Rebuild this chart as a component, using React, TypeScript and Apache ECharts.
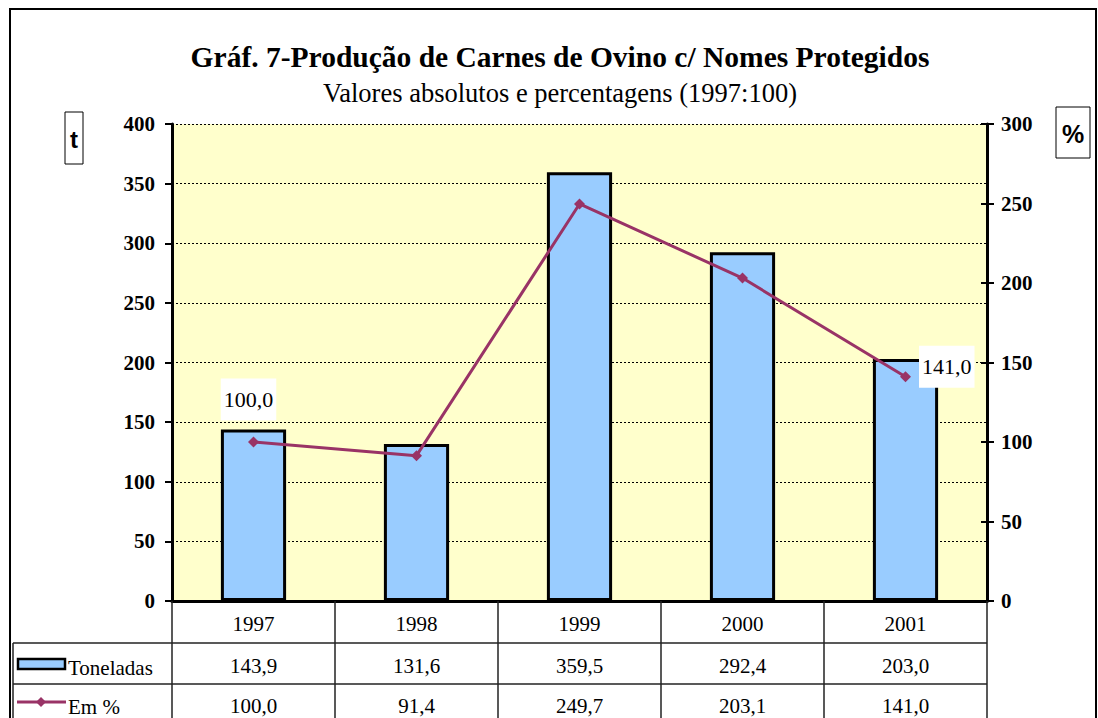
import React, { useEffect, useRef } from "react";
import * as echarts from "echarts";

const categories = ["1997", "1998", "1999", "2000", "2001"];
const toneladas = [143.9, 131.6, 359.5, 292.4, 203.0];
const emPct = [100.0, 91.4, 249.7, 203.1, 141.0];
const leftTicks = { min: 0, max: 400, interval: 50 };
const rightTicks = { min: 0, max: 300, interval: 50 };
const titleText = "Gráf. 7-Produção de Carnes de Ovino c/ Nomes Protegidos";
const subtitleText = "Valores absolutos e percentagens (1997:100)";
const seriesNames = ["Toneladas", "Em %"];

const fmt = (v: number) => v.toFixed(1).replace(".", ",");
const SERIF = "Liberation Serif, Times New Roman, serif";
const SANS = "Liberation Sans, Arial, sans-serif";

export default function App() {
  const ref = useRef<HTMLDivElement>(null);
  useEffect(() => {
    if (!ref.current) return;
    const chart = echarts.init(ref.current, undefined, { renderer: "svg" });
    const hidden = { show: false };
    const tableAxis = (data: string[], offset: number) => ({
      type: "category",
      data,
      position: "bottom",
      offset,
      gridIndex: 0,
      axisLine: hidden,
      axisTick: hidden,
      splitLine: hidden,
      axisLabel: { interval: 0, margin: 12, fontFamily: SERIF, fontSize: 21, color: "#000" },
    });
    const lastIdx = emPct.length - 1;
    chart.setOption({
      animation: false,
      backgroundColor: "#fff",
      textStyle: { fontFamily: SERIF },
      grid: {
        left: 172,
        right: 111,
        top: 124,
        bottom: 117,
        show: true,
        backgroundColor: "#FFFFCC",
        borderWidth: 0,
      },
      xAxis: [
        {
          type: "category",
          data: categories,
          position: "bottom",
          axisLine: { show: true, lineStyle: { color: "#000", width: 3 } },
          axisTick: { show: true, interval: 0, length: 117, lineStyle: { color: "#222", width: 1.5 } },
          axisLabel: { interval: 0, margin: 12, fontFamily: SERIF, fontSize: 21, color: "#000" },
          splitLine: hidden,
        },
        tableAxis(toneladas.map(fmt), 42),
        tableAxis(emPct.map(fmt), 82),
      ],
      yAxis: [
        {
          type: "value",
          position: "left",
          ...leftTicks,
          axisLine: { show: true, lineStyle: { color: "#000", width: 3 } },
          axisTick: { show: true, length: 7, lineStyle: { color: "#000", width: 2 } },
          axisLabel: { margin: 17, fontFamily: SERIF, fontSize: 21, fontWeight: "bold", color: "#000" },
          splitLine: { show: true, lineStyle: { color: "#000", type: [2, 2], width: 1 } },
        },
        {
          type: "value",
          position: "right",
          ...rightTicks,
          axisLine: { show: true, lineStyle: { color: "#000", width: 3 } },
          axisTick: { show: true, length: 7, lineStyle: { color: "#000", width: 2 } },
          axisLabel: { margin: 14, fontFamily: SERIF, fontSize: 21, fontWeight: "bold", color: "#000" },
          splitLine: hidden,
        },
        {
          type: "value",
          position: "right",
          ...rightTicks,
          axisLine: hidden,
          axisTick: { show: true, inside: true, length: 6, lineStyle: { color: "#000", width: 2 } },
          axisLabel: hidden,
          splitLine: hidden,
        },
      ],
      series: [
        {
          name: seriesNames[0],
          type: "bar",
          data: toneladas,
          xAxisIndex: 0,
          yAxisIndex: 0,
          barWidth: "40%",
          itemStyle: { color: "#99CCFF", borderColor: "#000", borderWidth: 3 },
        },
        {
          name: seriesNames[1],
          type: "line",
          data: emPct.map((v, i) => {
            if (i === 0) {
              return {
                value: v,
                label: { show: true, position: "top", distance: 16, offset: [-5, 0] },
              };
            }
            if (i === lastIdx) {
              return {
                value: v,
                label: { show: true, position: "right", distance: 8, offset: [0, -10] },
              };
            }
            return v;
          }),
          xAxisIndex: 0,
          yAxisIndex: 1,
          symbol: "diamond",
          symbolSize: 11,
          lineStyle: { color: "#993366", width: 3 },
          itemStyle: { color: "#993366" },
          label: {
            show: false,
            formatter: (p: any) => fmt(p.value),
            fontFamily: SERIF,
            fontSize: 22,
            color: "#000",
            backgroundColor: "#fff",
            padding: [10, 3, 10, 3],
          },
        },
      ],
      graphic: [
        { type: "rect", shape: { x: 10, y: 9, width: 1086, height: 720 }, style: { fill: "none", stroke: "#000", lineWidth: 2 } },
        { type: "text", x: 560, y: 57, style: { text: titleText, fontFamily: SERIF, fontSize: 29.5, fontWeight: "bold", fill: "#000", align: "center", verticalAlign: "middle" } },
        { type: "text", x: 560, y: 93, style: { text: subtitleText, fontFamily: SERIF, fontSize: 26.5, fill: "#000", align: "center", verticalAlign: "middle" } },
        { type: "rect", shape: { x: 65, y: 112, width: 18, height: 52 }, style: { fill: "#fff", stroke: "#000", lineWidth: 1 } },
        { type: "text", x: 74, y: 139, style: { text: "t", fontFamily: SANS, fontSize: 24, fontWeight: "bold", fill: "#000", align: "center", verticalAlign: "middle" } },
        { type: "rect", shape: { x: 1056, y: 107, width: 34, height: 51 }, style: { fill: "#fff", stroke: "#000", lineWidth: 1 } },
        { type: "text", x: 1073, y: 134, style: { text: "%", fontFamily: SANS, fontSize: 25, fontWeight: "bold", fill: "#000", align: "center", verticalAlign: "middle" } },
        { type: "line", shape: { x1: 13, y1: 643, x2: 987, y2: 643 }, style: { stroke: "#222", lineWidth: 1.5 } },
        { type: "line", shape: { x1: 13, y1: 684, x2: 987, y2: 684 }, style: { stroke: "#222", lineWidth: 1.5 } },
        { type: "line", shape: { x1: 13, y1: 643, x2: 13, y2: 720 }, style: { stroke: "#222", lineWidth: 1.5 } },
        { type: "rect", shape: { x: 18, y: 659, width: 47, height: 10 }, style: { fill: "#99CCFF", stroke: "#000", lineWidth: 2.5 } },
        { type: "text", x: 68, y: 668, style: { text: seriesNames[0], fontFamily: SERIF, fontSize: 21, fill: "#000", align: "left", verticalAlign: "middle" } },
        { type: "line", shape: { x1: 17, y1: 702, x2: 66, y2: 702 }, style: { stroke: "#993366", lineWidth: 3 } },
        { type: "polygon", shape: { points: [[41, 697], [46, 702], [41, 707], [36, 702]] }, style: { fill: "#993366" } },
        { type: "text", x: 68, y: 707, style: { text: seriesNames[1], fontFamily: SERIF, fontSize: 21, fill: "#000", align: "left", verticalAlign: "middle" } },
      ],
    });
    return () => chart.dispose();
  }, []);
  return <div ref={ref} style={{ position: "absolute", left: 0, top: 0, width: 1098, height: 718 }} />;
}
